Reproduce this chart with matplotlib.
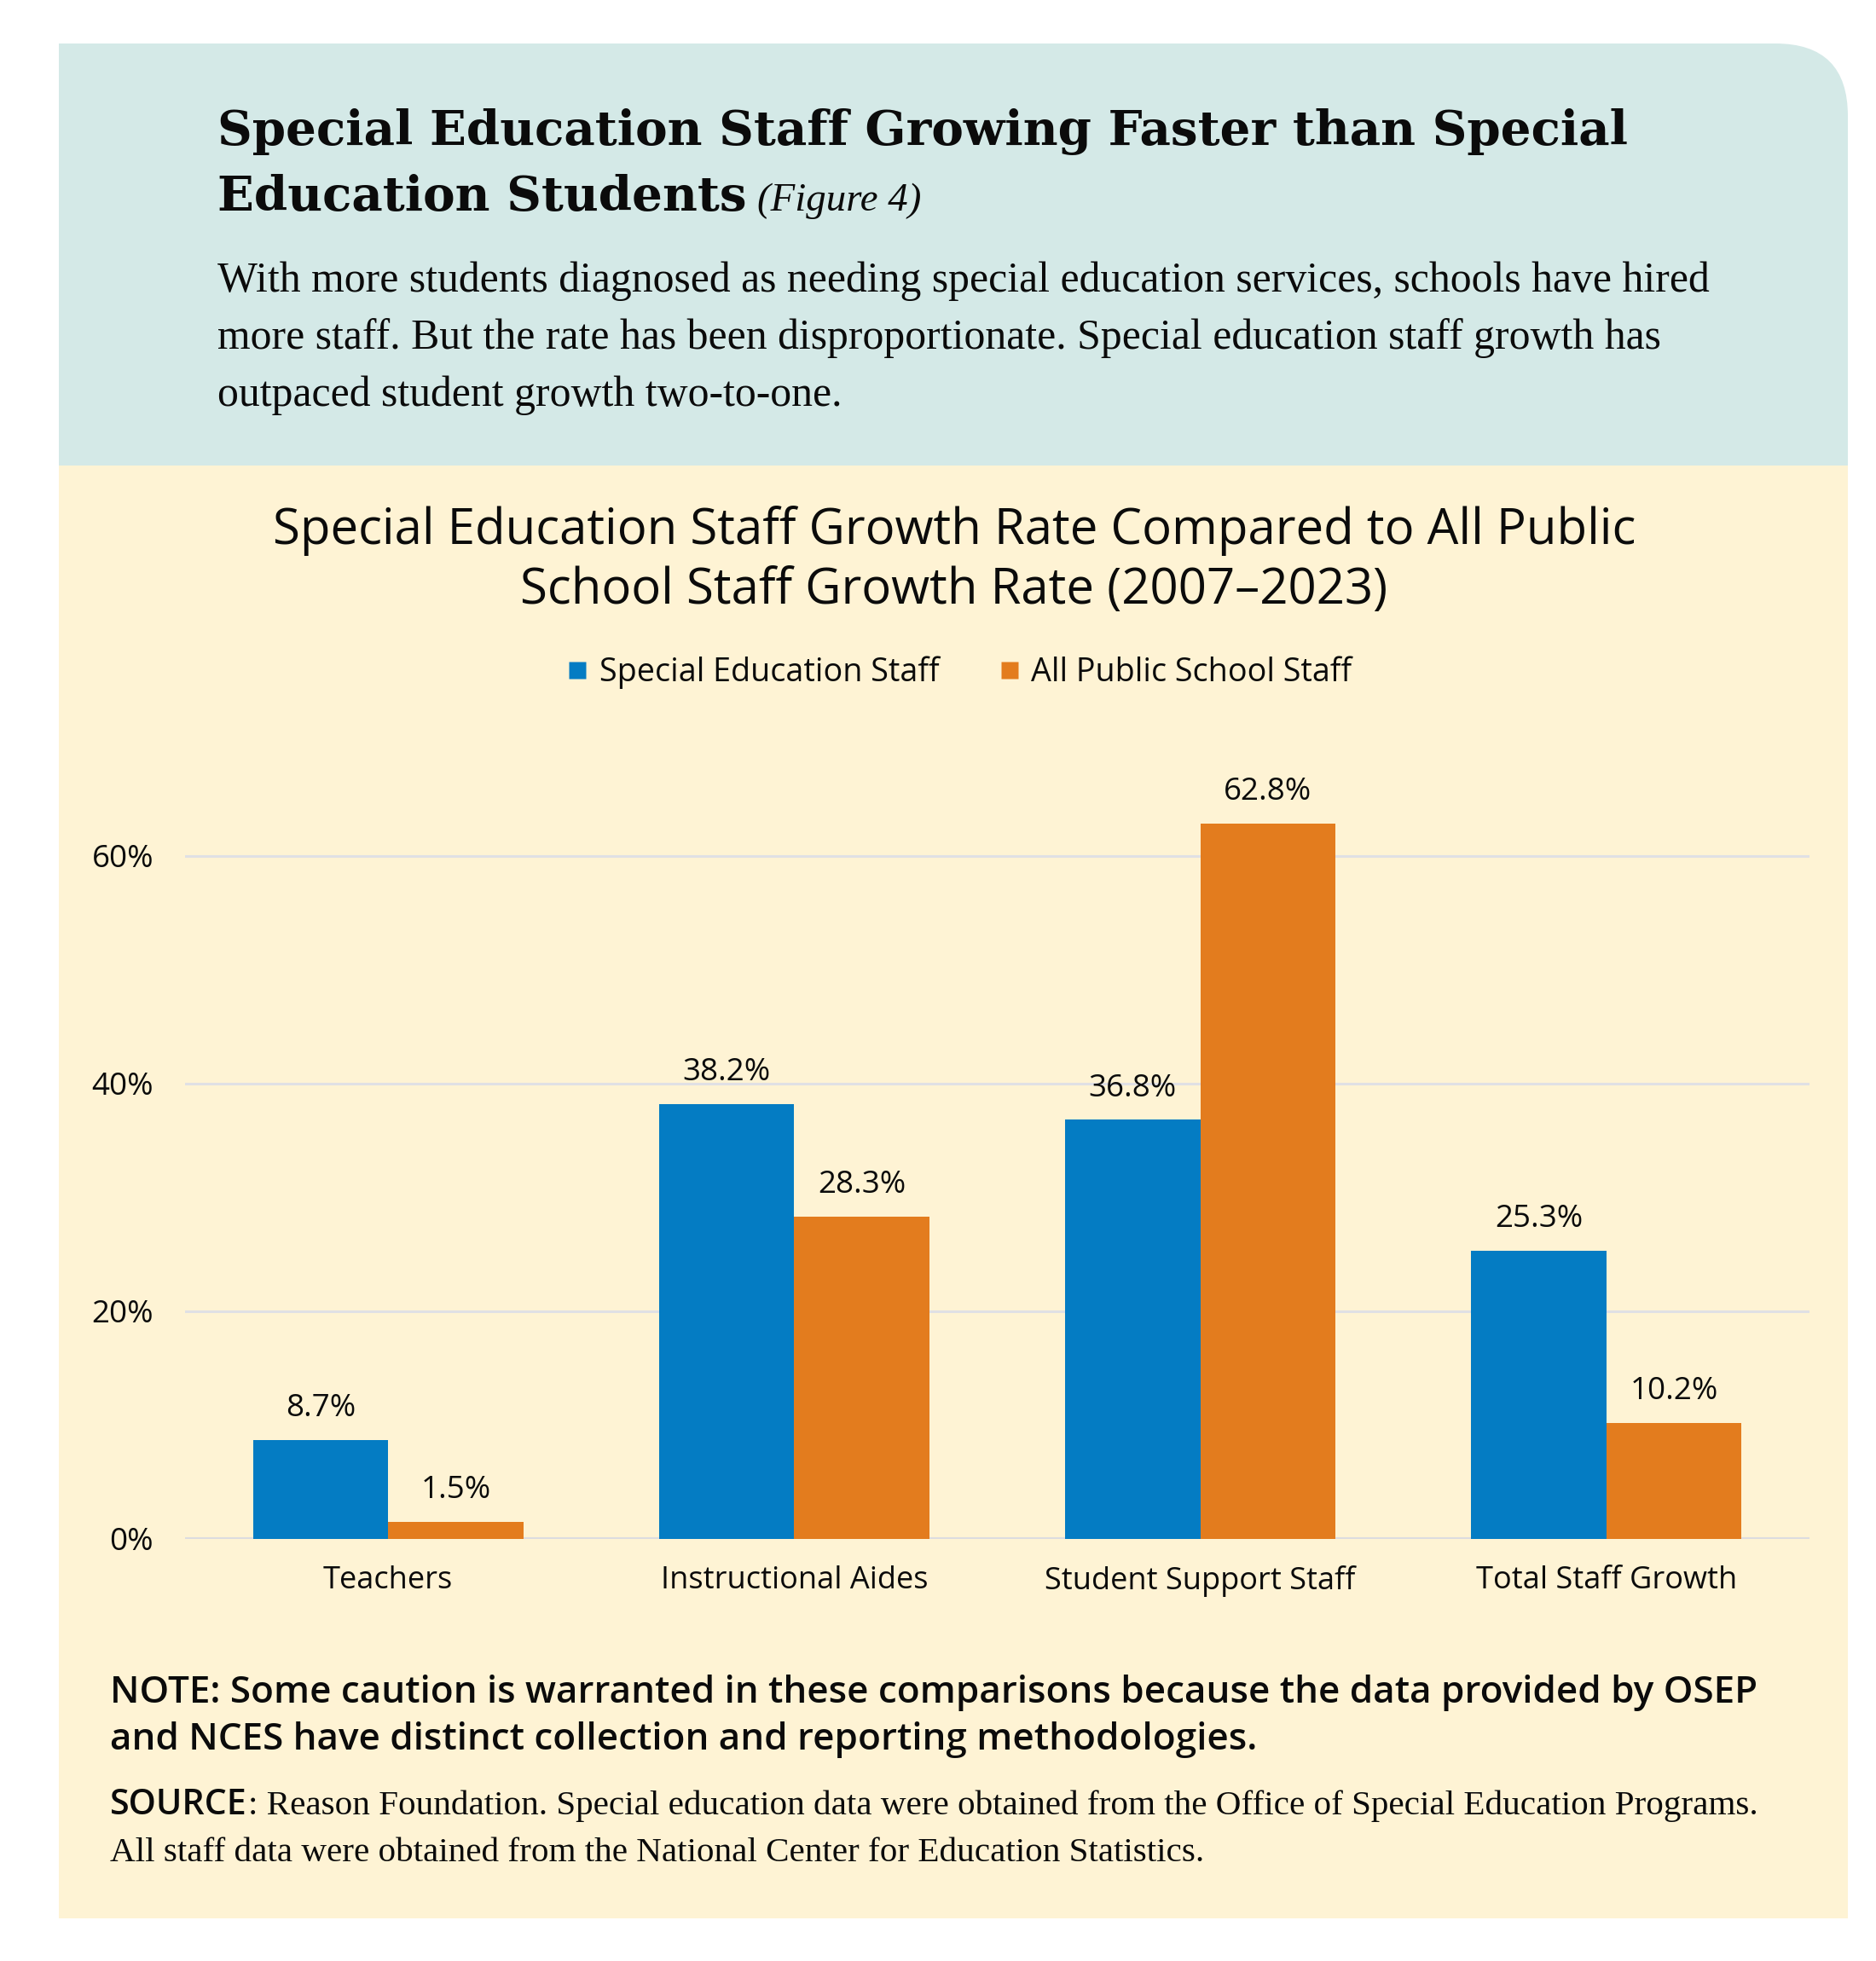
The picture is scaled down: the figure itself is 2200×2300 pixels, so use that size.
import matplotlib
matplotlib.use("Agg")
import matplotlib.pyplot as plt
from matplotlib.patches import FancyBboxPatch, Rectangle
from matplotlib.lines import Line2D
import numpy as np

# ---------------- data ----------------
categories = ["Teachers", "Instructional Aides", "Student Support Staff", "Total Staff Growth"]
special_ed_staff = [8.7, 38.2, 36.8, 25.3]
all_public_staff = [1.5, 28.3, 62.8, 10.2]
series_labels = ["Special Education Staff", "All Public School Staff"]
y_ticks = [0, 20, 40, 60]
y_tick_labels = ["0%", "20%", "40%", "60%"]

header_line1 = "Special Education Staff Growing Faster than Special"
header_line2 = "Education Students"
header_figure = "(Figure 4)"
body_lines = [
    "With more students diagnosed as needing special education services, schools have hired",
    "more staff. But the rate has been disproportionate. Special education staff growth has",
    "outpaced student growth two-to-one.",
]
chart_title_lines = [
    "Special Education Staff Growth Rate Compared to All Public",
    "School Staff Growth Rate (2007\u20132023)",
]
note_lines = [
    "NOTE: Some caution is warranted in these comparisons because the data provided by OSEP",
    "and NCES have distinct collection and reporting methodologies.",
]
source_label = "SOURCE"
source_lines = [
    ": Reason Foundation. Special education data were obtained from the Office of Special Education Programs.",
    "All staff data were obtained from the National Center for Education Statistics.",
]

# ---------------- style ----------------
BLUE = "#047cc3"
ORANGE = "#e37c1e"
PANEL_TOP = "#d4e9e7"
PANEL_BOTTOM = "#fef3d4"
GRID = "#e0e0e4"
INK = "#0b0b0b"
SANS = ["Open Sans", "DejaVu Sans"]
SERIF = ["Liberation Serif", "DejaVu Serif"]

plt.rcParams["font.family"] = SANS

W, H = 2200, 2300
fig = plt.figure(figsize=(W / 100, H / 100), dpi=100)
fig.patch.set_facecolor("white")

bg = fig.add_axes([0, 0, 1, 1], zorder=0)
bg.set_xlim(0, W)
bg.set_ylim(H, 0)
bg.axis("off")

# panels
bg.add_patch(FancyBboxPatch((69, 51), 2098, 650,
                            boxstyle="round,pad=0,rounding_size=85",
                            facecolor=PANEL_TOP, edgecolor="none"))
bg.add_patch(Rectangle((69, 51), 400, 495, facecolor=PANEL_TOP, edgecolor="none"))
bg.add_patch(Rectangle((69, 546), 2098, 1704, facecolor=PANEL_BOTTOM, edgecolor="none"))

renderer = fig.canvas.get_renderer()


def txt(x, y, s, **kw):
    ha = kw.pop("ha", "left")
    return bg.text(x, y, s, va="baseline", ha=ha, color=INK, **kw)


def width(t):
    return t.get_window_extent(renderer=renderer).width


def fit_width(t, target):
    for _ in range(3):
        t.set_fontsize(t.get_fontsize() * target / width(t))
    return t.get_fontsize()


# header
h1 = txt(255, 170, header_line1, family=["DejaVu Serif"], weight="bold", fontsize=38)
hs = fit_width(h1, 1908 - 255)
h2 = txt(255, 247, header_line2, family=["DejaVu Serif"], weight="bold", fontsize=hs)
hf = txt(888, 247, header_figure, family=SERIF, style="italic", fontsize=28)
fit_width(hf, 1080 - 888)

# body
b0 = txt(255, 342, body_lines[0], family=SERIF, fontsize=34)
bs = fit_width(b0, 2004 - 255)
for y, line in zip([409, 476], body_lines[1:]):
    txt(255, y, line, family=SERIF, fontsize=bs)

# chart title
t0 = txt(1119, 638, chart_title_lines[0], ha="center", family=SANS, fontsize=38)
ts = fit_width(t0, 1600)
txt(1119, 708, chart_title_lines[1], ha="center", family=SANS, fontsize=ts)

# note
n0 = txt(129, 1997, note_lines[0], family=SANS, weight="semibold", fontsize=28)
ns = fit_width(n0, 2060 - 129)
txt(129, 2052, note_lines[1], family=SANS, weight="semibold", fontsize=ns)

# source
s_lab = txt(129, 2128, source_label, family=SANS, weight="semibold", fontsize=ns)
fit_width(s_lab, 290 - 129)
s_x = 129 + width(s_lab) + 1
s0 = txt(s_x, 2128, source_lines[0], family=SERIF, fontsize=28)
ss = fit_width(s0, 2060 - s_x)
txt(129, 2183, source_lines[1], family=SERIF, fontsize=ss)

# ---------------- chart ----------------
ax_left, ax_right = 217, 2122
ax_bottom_px, ax_top_px = 1805, 870
ax = fig.add_axes([ax_left / W, 1 - ax_bottom_px / H,
                   (ax_right - ax_left) / W, (ax_bottom_px - ax_top_px) / H], zorder=1)
ax.patch.set_alpha(0)

x = np.arange(len(categories))
bw = 0.333
bars1 = ax.bar(x - bw / 2, special_ed_staff, bw, color=BLUE, zorder=2)
bars2 = ax.bar(x + bw / 2, all_public_staff, bw, color=ORANGE, zorder=2)

for bars, vals in ((bars1, special_ed_staff), (bars2, all_public_staff)):
    for b, v in zip(bars, vals):
        ax.annotate(f"{v:.1f}%", (b.get_x() + b.get_width() / 2, v),
                    xytext=(0, 20), textcoords="offset points",
                    ha="center", va="baseline", fontsize=26.5, color=INK, zorder=3)

ax.set_xlim(-0.5, len(categories) - 0.5)
ax.set_ylim(0, 70)
ax.set_yticks(y_ticks)
ax.set_yticklabels(y_tick_labels)
ax.set_xticks(x)
ax.set_xticklabels(categories)
ax.tick_params(axis="y", length=0, pad=26.5, labelsize=26.5, labelcolor=INK)
ax.tick_params(axis="x", length=0, pad=22, labelsize=26, labelcolor=INK)
for sp in ax.spines.values():
    sp.set_visible(False)
ax.yaxis.grid(True, color=GRID, linewidth=2.2)
ax.set_axisbelow(True)
ax.axhline(0, color="#dcdcdf", linewidth=3, zorder=1)

handles = [Line2D([0], [0], marker="s", linestyle="", markersize=14.4,
                  markerfacecolor=c, markeredgecolor="none") for c in (BLUE, ORANGE)]
leg = ax.legend(handles, series_labels, loc="center", bbox_to_anchor=(1126, 789),
                bbox_transform=bg.transData, ncol=2, frameon=False, fontsize=27.2,
                handlelength=0.55, handletextpad=0.4, columnspacing=1.9,
                borderpad=0, borderaxespad=0)
for t in leg.get_texts():
    t.set_color(INK)

fig.savefig("out.png", dpi=100, facecolor="white")
